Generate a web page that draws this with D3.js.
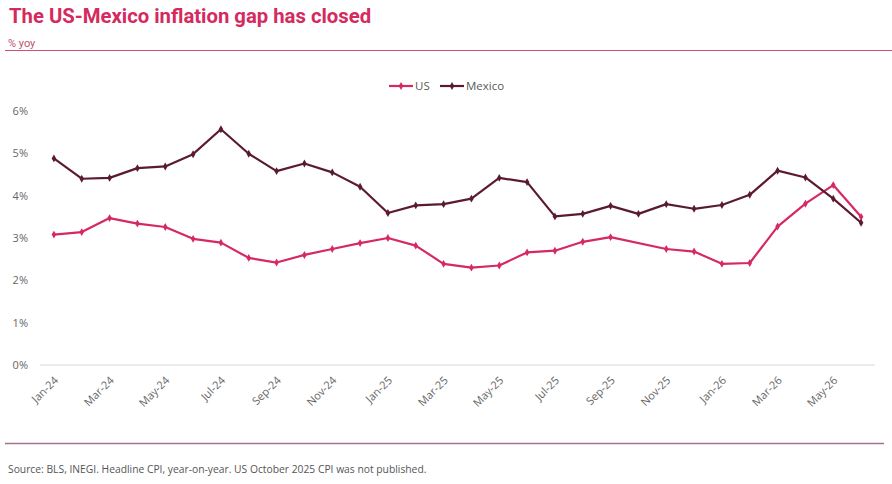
<!DOCTYPE html>
<html><head><meta charset="utf-8">
<script src="https://cdn.jsdelivr.net/npm/d3@7"></script>
<style>
html,body{margin:0;padding:0;background:#fff;}
svg{display:block;}
</style></head>
<body>
<svg id="chart" width="892" height="484"></svg>
<script>
const months = ["Jan-24","Feb-24","Mar-24","Apr-24","May-24","Jun-24","Jul-24","Aug-24","Sep-24","Oct-24","Nov-24","Dec-24",
  "Jan-25","Feb-25","Mar-25","Apr-25","May-25","Jun-25","Jul-25","Aug-25","Sep-25","Oct-25","Nov-25","Dec-25",
  "Jan-26","Feb-26","Mar-26","Apr-26","May-26","Jun-26"];
const usValues = [3.08,3.14,3.47,3.34,3.26,2.98,2.89,2.53,2.42,2.60,2.74,2.88,
  3.00,2.82,2.39,2.30,2.35,2.66,2.70,2.91,3.02,null,2.74,2.68,
  2.39,2.41,3.27,3.81,4.25,3.50];
const mexicoValues = [4.88,4.40,4.42,4.65,4.69,4.98,5.57,4.99,4.58,4.76,4.55,4.21,
  3.59,3.77,3.80,3.93,4.42,4.32,3.51,3.57,3.76,3.57,3.80,3.69,
  3.78,4.02,4.59,4.43,3.93,3.36];
const yTicks = [0,1,2,3,4,5,6];
const xTickLabels = months.filter((m,i)=> i%2===0);
const seriesNames = ["US","Mexico"];
const seriesColors = ["#d6295f","#5b1a33"];

const svg = d3.select("#chart");
const mLeft = 40, mRight = 875, mTop = 111, mBottom = 365;

const x = d3.scaleBand().domain(months).range([mLeft,mRight]).padding(0);
const y = d3.scaleLinear().domain([0,6]).range([mBottom,mTop]);

// title
svg.append("text").attr("x",9).attr("y",23)
  .attr("font-family","Roboto, 'Noto Sans', sans-serif").attr("font-weight",700)
  .attr("font-size",20.3).attr("fill","#d42a5e")
  .text("The US-Mexico inflation gap has closed");
svg.append("text").attr("x",8).attr("y",47)
  .attr("font-family","Roboto, sans-serif").attr("font-size",11).attr("fill","#c0506f")
  .text("% yoy");
svg.append("line").attr("x1",5).attr("x2",892).attr("y1",50.5).attr("y2",50.5)
  .attr("stroke","#c8507a").attr("stroke-width",1);

// y axis labels
const yAxis = d3.axisLeft(y).tickValues(yTicks).tickFormat(d=>d+"%").tickSize(0).tickPadding(12);
const gy = svg.append("g").attr("transform",`translate(${mLeft},0)`).call(yAxis);
gy.select(".domain").remove();
gy.selectAll("text").attr("font-family","'Open Sans', sans-serif").attr("font-size",11).attr("fill","#666");

// zero line
svg.append("line").attr("x1",mLeft).attr("x2",mRight).attr("y1",y(0)).attr("y2",y(0))
  .attr("stroke","#d9d9d9").attr("stroke-width",1);

// x axis
const xAxis = d3.axisBottom(x).tickValues(xTickLabels).tickSize(0).tickPadding(0);
const gx = svg.append("g").attr("transform",`translate(0,${mBottom})`).call(xAxis);
gx.select(".domain").remove();
gx.selectAll("text")
  .attr("font-family","'Open Sans', sans-serif").attr("font-size",11).attr("fill","#666")
  .attr("text-anchor","end").attr("dy",0)
  .attr("transform","translate(5,16) rotate(-45)");

// lines
const lineGen = d3.line().defined(d=>d.v!==null)
  .x(d=>x(d.m)+x.bandwidth()/2).y(d=>y(d.v));
const seriesData = [usValues, mexicoValues].map((vals,i)=>({
  name: seriesNames[i], color: seriesColors[i],
  points: months.map((m,j)=>({m, v: vals[j]}))
}));
const diamond = d3.symbol().type(d3.symbolDiamond).size(18);
seriesData.forEach(s=>{
  const pts = s.points.filter(d=>d.v!==null);
  svg.append("path").datum(pts).attr("d", lineGen).attr("fill","none")
    .attr("stroke", s.color).attr("stroke-width",2.2).attr("stroke-linejoin","round");
  svg.append("g").selectAll("path").data(pts).join("path")
    .attr("d", diamond)
    .attr("transform", d=>`translate(${x(d.m)+x.bandwidth()/2},${y(d.v)})`)
    .attr("fill", s.color);
});

// legend
const legend = svg.append("g");
const legendPos = [{x1:389,tx:415},{x1:440,tx:466}];
seriesData.forEach((s,i)=>{
  const p = legendPos[i];
  legend.append("line").attr("x1",p.x1).attr("x2",p.x1+24).attr("y1",86).attr("y2",86)
    .attr("stroke",s.color).attr("stroke-width",2.2);
  legend.append("path").attr("d",diamond).attr("transform",`translate(${p.x1+12},86)`).attr("fill",s.color);
  legend.append("text").attr("x",p.tx).attr("y",90)
    .attr("font-family","'Open Sans', sans-serif").attr("font-size",11.5).attr("fill","#595959")
    .text(s.name);
});

// bottom rule & source
svg.append("line").attr("x1",5).attr("x2",884).attr("y1",443.5).attr("y2",443.5)
  .attr("stroke","#a8708f").attr("stroke-width",1.5);
svg.append("text").attr("x",8).attr("y",473)
  .attr("font-family","'Open Sans', sans-serif").attr("font-size",10.3).attr("fill","#555")
  .text("Source: BLS, INEGI. Headline CPI, year-on-year. US October 2025 CPI was not published.");
</script>
</body></html>
